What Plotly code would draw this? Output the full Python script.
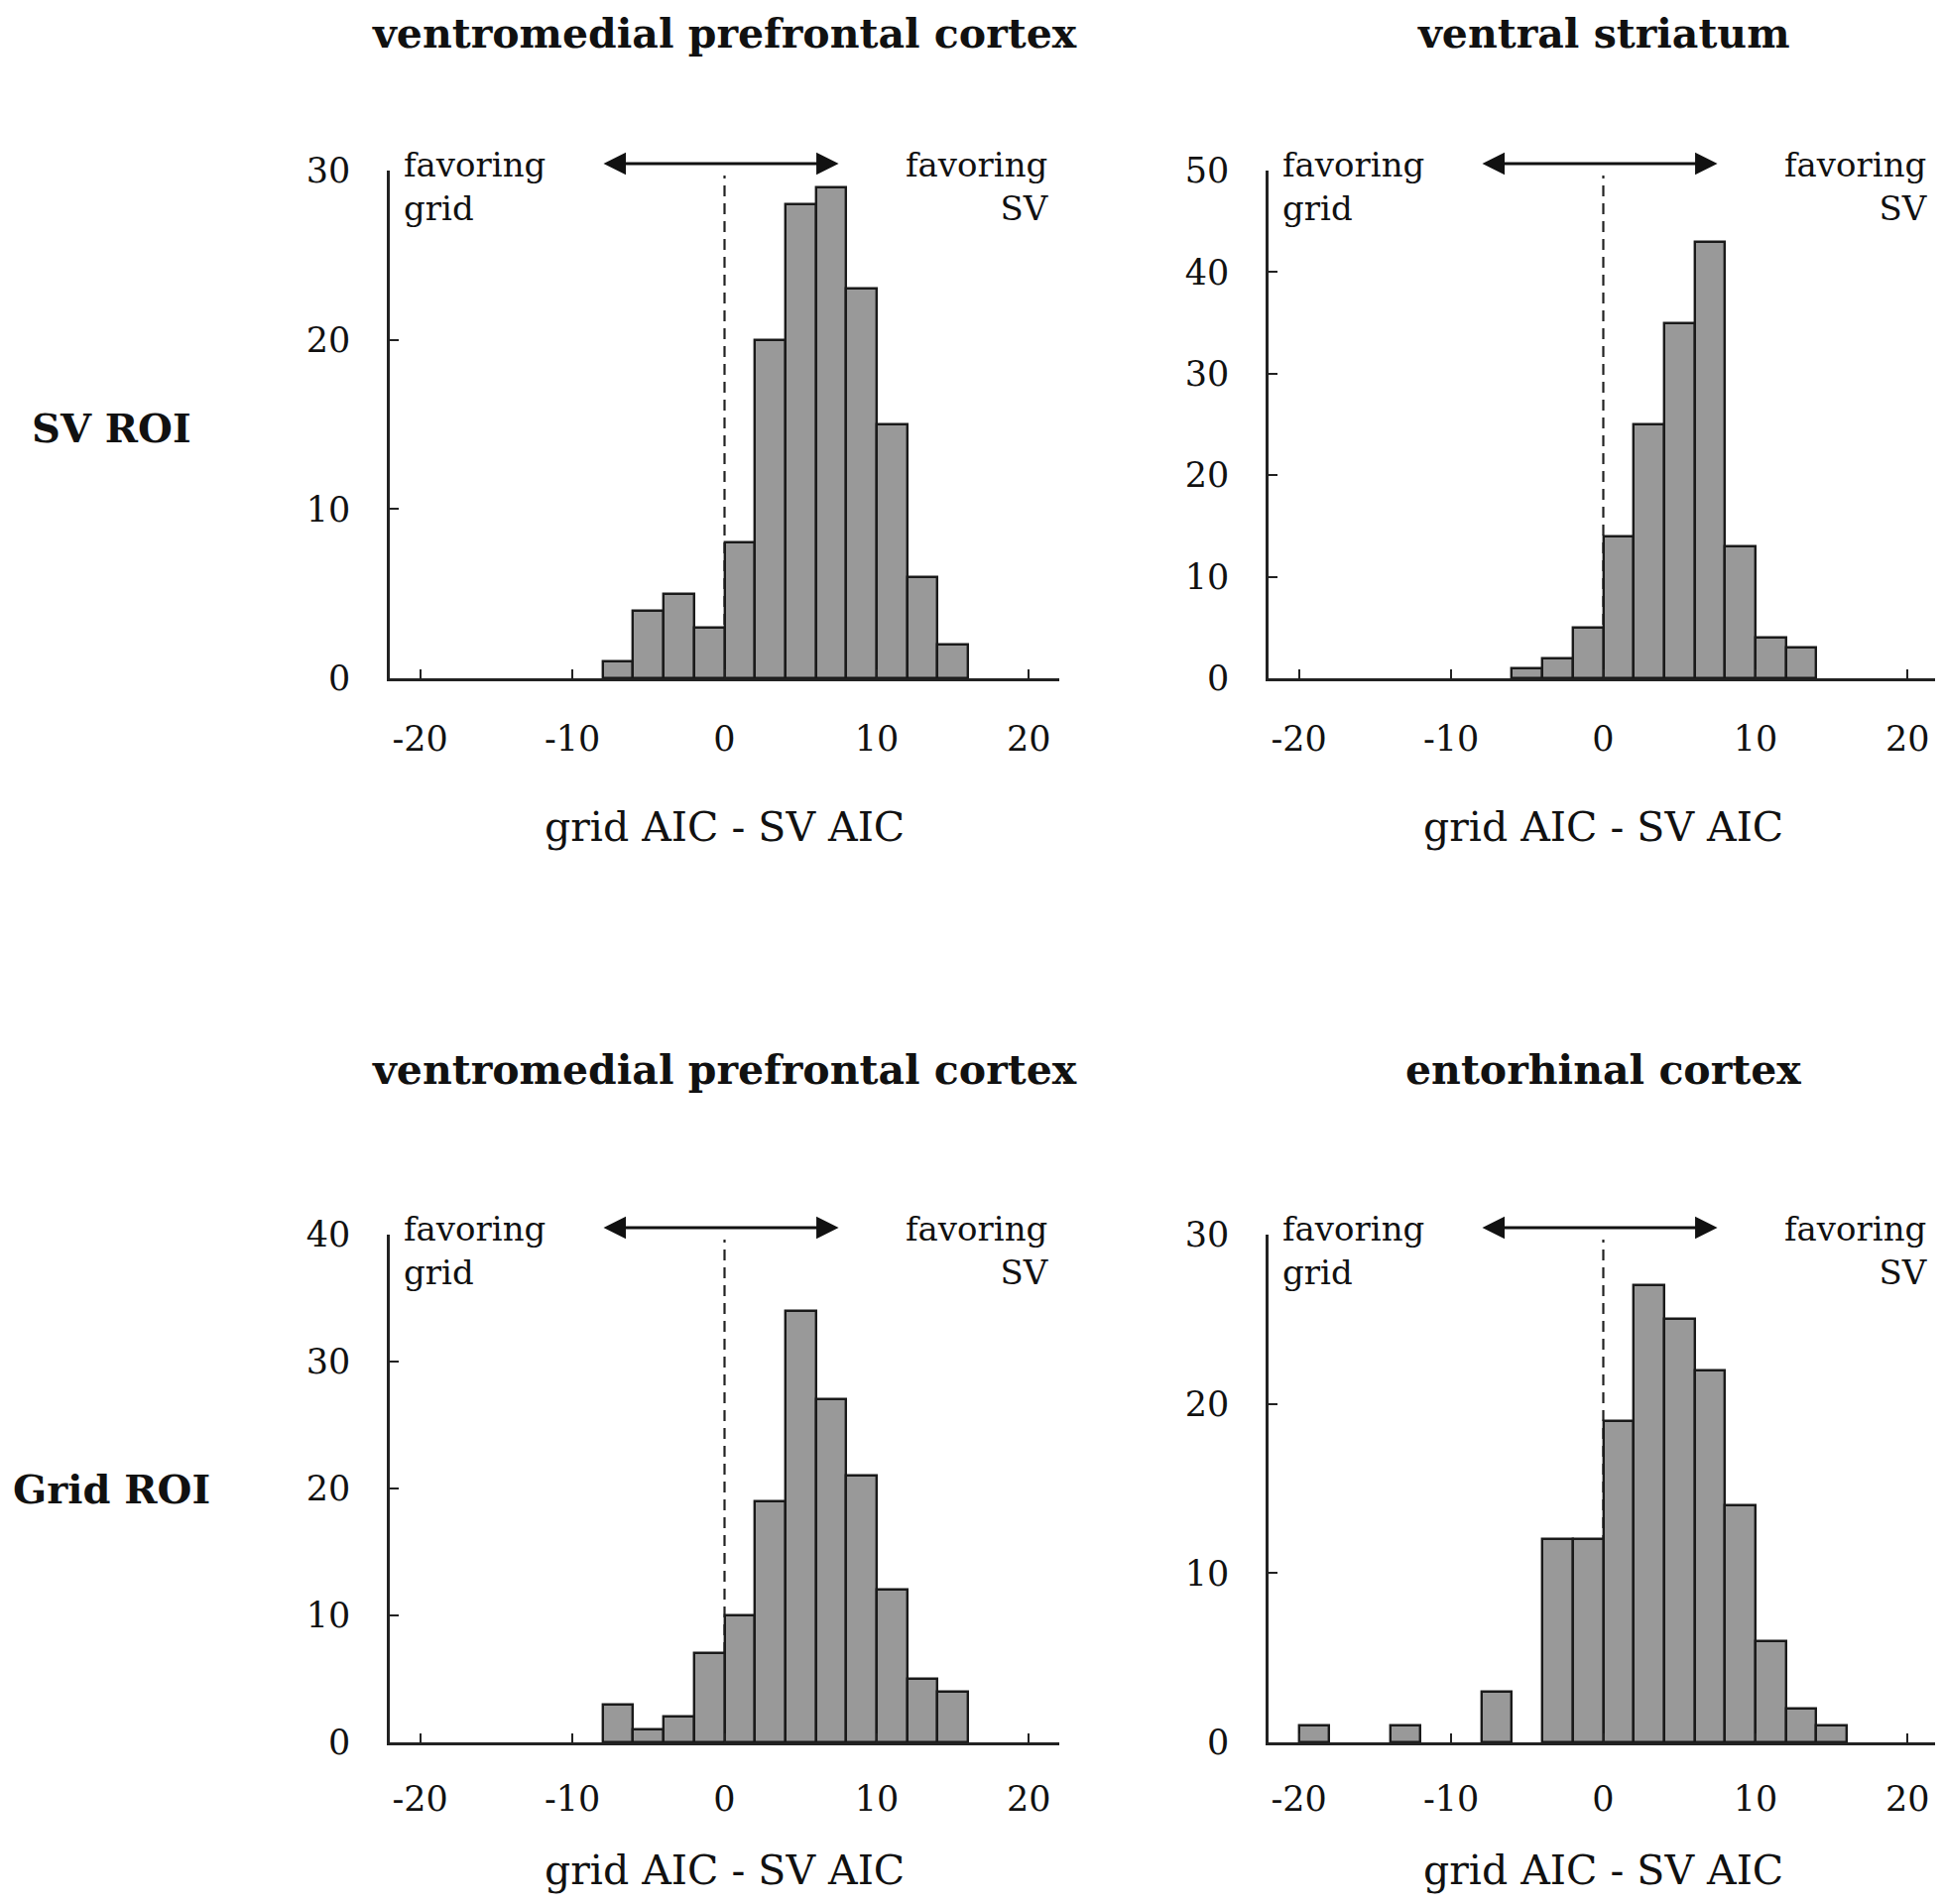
import plotly.graph_objects as go

# ---- data (bin left edges, bin width 2) ----
bin_width = 2
p1_left = [-8, -6, -4, -2, 0, 2, 4, 6, 8, 10, 12, 14]
p1_counts = [1, 4, 5, 3, 8, 20, 28, 29, 23, 15, 6, 2]

p2_left = [-6, -4, -2, 0, 2, 4, 6, 8, 10, 12]
p2_counts = [1, 2, 5, 14, 25, 35, 43, 13, 4, 3]

p3_left = [-8, -6, -4, -2, 0, 2, 4, 6, 8, 10, 12, 14]
p3_counts = [3, 1, 2, 7, 10, 19, 34, 27, 21, 12, 5, 4]

p4_left = [-20, -14, -8, -4, -2, 0, 2, 4, 6, 8, 10, 12, 14]
p4_counts = [1, 1, 3, 12, 12, 19, 27, 25, 22, 14, 6, 2, 1]

panel_titles = ["ventromedial prefrontal cortex", "ventral striatum",
                "ventromedial prefrontal cortex", "entorhinal cortex"]
row_labels = ["SV ROI", "Grid ROI"]
y_max = [30, 50, 40, 30]
x_ticks = [-20, -10, 0, 10, 20]
x_title = "grid AIC - SV AIC"

PAGE_OFF = 8            # default body margin of the html page
W, H = 1959 - PAGE_OFF, 1920 - 2 * PAGE_OFF
FONT = "DejaVu Serif"
INK = "#111111"

# pixel layout of the panels in page coordinates: (left, right, top, bottom)
panels_px = [(393, 1068, 172, 684), (1279, 1954, 172, 684),
             (393, 1068, 1245, 1757), (1279, 1954, 1245, 1757)]

def px_x(p):
    return (p - PAGE_OFF) / W

def px_y(p):
    return 1 - (p - PAGE_OFF) / H

data = [(p1_left, p1_counts), (p2_left, p2_counts), (p3_left, p3_counts), (p4_left, p4_counts)]

fig = go.Figure()
annotations = []
shapes = []
for i, ((lefts, counts), (l, r, t, b)) in enumerate(zip(data, panels_px)):
    n = "" if i == 0 else str(i + 1)
    fig.add_trace(go.Bar(
        x=[e + bin_width / 2 for e in lefts], y=counts, width=bin_width,
        marker=dict(color="#999999", line=dict(color="#1a1a1a", width=2.4)),
        xaxis="x" + n, yaxis="y" + n, showlegend=False,
    ))
    xa = dict(domain=[px_x(l), min(px_x(r), 1.0)], range=[-22, 22], anchor="y" + n,
              automargin=False,
              showline=True, linecolor="#222222", linewidth=2.5,
              ticks="inside", ticklen=9, tickwidth=2, tickcolor="#222222",
              tickvals=x_ticks, ticktext=[str(v) for v in x_ticks],
              showgrid=False, zeroline=False,
              tickfont=dict(family=FONT, size=35, color=INK),
              ticklabelstandoff=28 if i < 2 else 24)
    ya = dict(domain=[px_y(b), px_y(t)], range=[0, y_max[i]], anchor="x" + n,
              automargin=False,
              showline=True, linecolor="#222222", linewidth=2.5,
              ticks="inside", ticklen=9, tickwidth=2, tickcolor="#222222",
              dtick=10, tick0=0, showgrid=False, zeroline=False,
              tickfont=dict(family=FONT, size=35, color=INK),
              ticklabelstandoff=30)
    fig.update_layout(**{"xaxis" + n: xa, "yaxis" + n: ya})

    xr, yr = "x" + n, "y" + n
    # dashed zero line
    shapes.append(dict(type="line", xref=xr, yref=yr + " domain", x0=0, x1=0, y0=0, y1=0.99,
                       line=dict(color="#222222", width=2.2, dash="11px,7px"), layer="below"))
    # double arrow
    ay = (b - (t - 7)) / (b - t)
    annotations.append(dict(x=7.5, y=ay, xref=xr, yref=yr + " domain",
                            ax=-8.05, ay=ay, axref=xr, ayref=yr + " domain",
                            showarrow=True, arrowhead=2, arrowside="end+start",
                            arrowsize=1.5, arrowwidth=3, arrowcolor=INK, text=""))
    # favoring labels
    annotations.append(dict(x=0, y=1, xref=xr + " domain", yref=yr + " domain",
                            xanchor="left", yanchor="top", align="left",
                            xshift=12, yshift=28, showarrow=False,
                            text="favoring<br>grid",
                            font=dict(family=FONT, size=34, color=INK)))
    annotations.append(dict(x=1, y=1, xref=xr + " domain", yref=yr + " domain",
                            xanchor="right", yanchor="top", align="right",
                            xshift=-8, yshift=28, showarrow=False,
                            text="favoring<br>SV",
                            font=dict(family=FONT, size=34, color=INK)))
    # panel title
    if i < 2:
        title_kw = dict(y=1.0, yanchor="top")
    else:
        title_kw = dict(y=px_y(1079), yanchor="middle")
    annotations.append(dict(x=px_x((l + r) / 2), xref="paper", yref="paper",
                            xanchor="center", showarrow=False,
                            text="<b>" + panel_titles[i] + "</b>",
                            font=dict(family=FONT, size=41, color=INK), **title_kw))
    # x-axis title
    xt_y = 834 if i < 2 else 1886
    annotations.append(dict(x=px_x((l + r) / 2), y=px_y(xt_y), xref="paper", yref="paper",
                            xanchor="center", yanchor="middle", showarrow=False,
                            text=x_title, font=dict(family=FONT, size=41, color=INK)))

# row labels
for lbl, yc in zip(row_labels, [431, 1501]):
    annotations.append(dict(x=0.0, y=px_y(yc), xref="paper", yref="paper",
                            xanchor="center", yanchor="middle", showarrow=False,
                            xshift=104,
                            text="<b>" + lbl + "</b>",
                            font=dict(family=FONT, size=40, color=INK)))

fig.update_layout(width=W, height=H,
                  margin=dict(l=0, r=0, t=0, b=0, pad=0, autoexpand=False),
                  paper_bgcolor="white", plot_bgcolor="white",
                  bargap=0, annotations=annotations, shapes=shapes,
                  font=dict(family=FONT, color=INK))

fig.write_html("out.html")
